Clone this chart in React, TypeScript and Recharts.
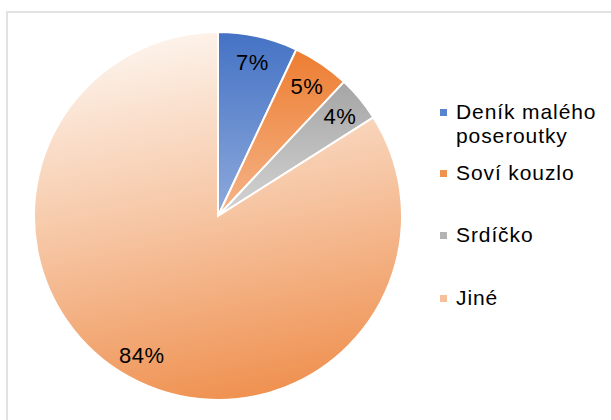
import React from 'react'
import { Cell, Legend, Pie, PieChart } from 'recharts'

const names = ['Deník malého poseroutky', 'Soví kouzlo', 'Srdíčko', 'Jiné']
const shares = [7, 5, 4, 84]
const gradientIds = ['gBlue', 'gOrange', 'gGrey', 'gPale']
const legendColors = ['#5a83cf', '#f0924f', '#b3b3b3', '#f6c09a']

const data = names.map((name, i) => ({ name, value: shares[i] }))

const font = '"Liberation Sans", Arial, sans-serif'
const legendTops = [100, 161, 223, 286]

function renderLabel(props: any) {
  const { cx, cy, midAngle, outerRadius, value } = props
  const rad = (Math.PI / 180) * midAngle
  const r = outerRadius * 0.86
  const x = cx + r * Math.cos(rad)
  const y = cy - r * Math.sin(rad)
  return (
    <text
      x={x}
      y={y + 1}
      fill="#000"
      textAnchor="middle"
      dominantBaseline="central"
      fontSize={22}
      letterSpacing={0.5}
      fontFamily={font}
    >
      {`${value}%`}
    </text>
  )
}

function renderLegend() {
  return (
    <div style={{ position: 'relative', height: 0 }}>
      {names.map((name, i) => (
        <div
          key={name}
          style={{
            position: 'absolute',
            left: 440,
            top: legendTops[i],
            width: 170,
            display: 'flex',
            alignItems: 'flex-start',
          }}
        >
          <span
            style={{
              display: 'inline-block',
              width: 7,
              height: 7,
              marginTop: 9,
              marginRight: 9,
              background: legendColors[i],
              flexShrink: 0,
            }}
          />
          <span
            style={{
              fontFamily: font,
              fontSize: 21,
              lineHeight: '24px',
              letterSpacing: 0.9,
              color: '#000',
              width: 150,
              textAlign: 'left',
            }}
          >
            {name}
          </span>
        </div>
      ))}
    </div>
  )
}

export default function App() {
  return (
    <div style={{ position: 'absolute', left: 0, top: 0, width: 611, height: 420, background: '#fff', overflow: 'hidden' }}>
      <div
        style={{
          position: 'absolute',
          left: 6,
          top: 11,
          width: 640,
          height: 440,
          border: '2px solid #e2e2e2',
          boxSizing: 'border-box',
        }}
      />
      <PieChart
        width={611}
        height={420}
        margin={{ top: 0, right: 0, bottom: 0, left: 0 }}
        style={{ position: 'absolute', left: 0, top: 0 }}
      >
        <defs>
          <linearGradient id="gBlue" x1="0" y1="0" x2="0" y2="1">
            <stop offset="0%" stopColor="#4472c4" />
            <stop offset="100%" stopColor="#8eaadc" />
          </linearGradient>
          <linearGradient id="gOrange" x1="0" y1="0" x2="0" y2="1">
            <stop offset="0%" stopColor="#ed7d31" />
            <stop offset="100%" stopColor="#f5b58a" />
          </linearGradient>
          <linearGradient id="gGrey" x1="0" y1="0" x2="0" y2="1">
            <stop offset="0%" stopColor="#a5a5a5" />
            <stop offset="100%" stopColor="#d4d4d4" />
          </linearGradient>
          <linearGradient id="gPale" x1="0.4" y1="0" x2="0.6" y2="1">
            <stop offset="0%" stopColor="#fdf3eb" />
            <stop offset="50%" stopColor="#f6c4a1" />
            <stop offset="100%" stopColor="#ef904f" />
          </linearGradient>
        </defs>
        <Pie
          data={data}
          dataKey="value"
          nameKey="name"
          cx={218}
          cy={216}
          outerRadius={184}
          startAngle={90}
          endAngle={-270}
          stroke="#fff"
          strokeWidth={2}
          label={renderLabel}
          labelLine={false}
          isAnimationActive={false}
        >
          {data.map((d, i) => (
            <Cell key={d.name} fill={`url(#${gradientIds[i]})`} />
          ))}
        </Pie>
        <Legend content={renderLegend} wrapperStyle={{ left: 0, top: 0, width: 611, height: 0 }} />
      </PieChart>
    </div>
  )
}
